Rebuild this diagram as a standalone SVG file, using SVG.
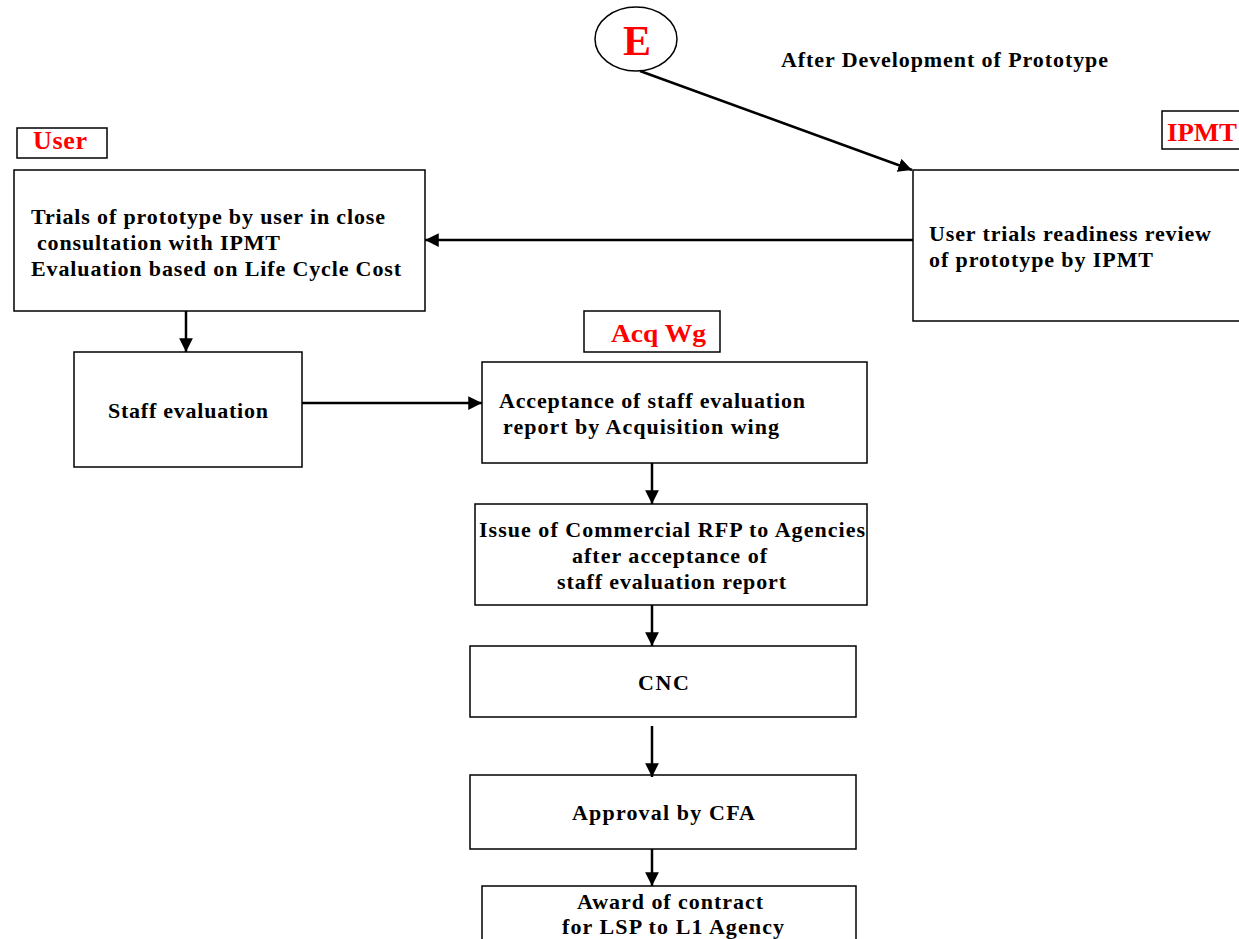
<svg xmlns="http://www.w3.org/2000/svg" width="1239" height="939" viewBox="0 0 1239 939">
<style>
.box{fill:#fff;stroke:#000;stroke-width:1.5}
.t{font-family:"Liberation Serif","Times New Roman",serif;font-weight:bold;font-size:22px;fill:#000}
.r{font-family:"Liberation Serif","Times New Roman",serif;font-weight:bold;font-size:26px;fill:#ff0000}
.c{stroke:#000;stroke-width:2.5;fill:none}
</style>
<defs>
<marker id="ah" viewBox="0 0 10 10" refX="10" refY="5" markerWidth="5.5" markerHeight="5.5" orient="auto" markerUnits="strokeWidth">
<path d="M0,0 L10,5 L0,10 z" fill="#000"/>
</marker>
</defs>
<rect width="1239" height="939" fill="#fff"/>
<g id="e-node">
<ellipse cx="636" cy="39" rx="41" ry="32" class="box"/>
<text x="637" y="55" text-anchor="middle" font-family="Liberation Serif, serif" font-weight="bold" font-size="42" fill="#ff0000">E</text>
</g>
<text class="t" x="781" y="67" textLength="327" lengthAdjust="spacing">After Development of Prototype</text>
<g id="user-label">
<rect x="17" y="128" width="90" height="30" class="box"/>
<text class="r" x="33" y="149" textLength="54" lengthAdjust="spacing">User</text>
</g>
<g id="ipmt-label">
<rect x="1162" y="111" width="80" height="38" class="box"/>
<text class="r" x="1167" y="141" textLength="70" lengthAdjust="spacingAndGlyphs">IPMT</text>
</g>
<g id="acq-label">
<rect x="584" y="311" width="136" height="41" class="box"/>
<text class="r" x="611" y="342" textLength="95" lengthAdjust="spacingAndGlyphs">Acq Wg</text>
</g>
<g id="trials">
<rect x="14" y="170" width="411" height="141" class="box"/>
<text class="t" x="31" y="224" textLength="354" lengthAdjust="spacing">Trials of prototype by user in close</text>
<text class="t" x="37" y="250" textLength="243" lengthAdjust="spacing">consultation with IPMT</text>
<text class="t" x="31" y="276" textLength="370" lengthAdjust="spacing">Evaluation based on Life Cycle Cost</text>
</g>
<g id="review">
<rect x="913" y="170" width="340" height="151" class="box"/>
<text class="t" x="929" y="241" textLength="282" lengthAdjust="spacing">User trials readiness review</text>
<text class="t" x="929" y="267" textLength="224" lengthAdjust="spacing">of prototype by IPMT</text>
</g>
<g id="staff">
<rect x="74" y="352" width="228" height="115" class="box"/>
<text class="t" x="108" y="418" textLength="160" lengthAdjust="spacing">Staff evaluation</text>
</g>
<g id="acceptance">
<rect x="482" y="362" width="385" height="101" class="box"/>
<text class="t" x="499" y="408" textLength="306" lengthAdjust="spacing">Acceptance of staff evaluation</text>
<text class="t" x="503" y="434" textLength="276" lengthAdjust="spacing">report by Acquisition wing</text>
</g>
<g id="issue">
<rect x="475" y="504" width="392" height="101" class="box"/>
<text class="t" x="479" y="537" textLength="386" lengthAdjust="spacing">Issue of Commercial RFP to Agencies</text>
<text class="t" x="572" y="563" textLength="195" lengthAdjust="spacing">after acceptance of</text>
<text class="t" x="557" y="589" textLength="229" lengthAdjust="spacing">staff evaluation report</text>
</g>
<g id="cnc">
<rect x="470" y="646" width="386" height="71" class="box"/>
<text class="t" x="638" y="690" textLength="51" lengthAdjust="spacing">CNC</text>
</g>
<g id="approval">
<rect x="470" y="775" width="386" height="74" class="box"/>
<text class="t" x="572" y="820" textLength="183" lengthAdjust="spacing">Approval by CFA</text>
</g>
<g id="award">
<rect x="482" y="886" width="374" height="70" class="box"/>
<text class="t" x="577" y="909" textLength="186" lengthAdjust="spacing">Award of contract</text>
<text class="t" x="562" y="934" textLength="222" lengthAdjust="spacing">for LSP to L1 Agency</text>
</g>
<g id="connectors">
<line x1="640" y1="71" x2="912" y2="170" class="c" marker-end="url(#ah)"/>
<line x1="913" y1="240" x2="425" y2="240" class="c" marker-end="url(#ah)"/>
<line x1="186" y1="311" x2="186" y2="352" class="c" marker-end="url(#ah)"/>
<line x1="302" y1="403" x2="482" y2="403" class="c" marker-end="url(#ah)"/>
<line x1="652" y1="463" x2="652" y2="504" class="c" marker-end="url(#ah)"/>
<line x1="652" y1="605" x2="652" y2="646" class="c" marker-end="url(#ah)"/>
<line x1="652" y1="726" x2="652" y2="777" class="c" marker-end="url(#ah)"/>
<line x1="652" y1="849" x2="652" y2="886" class="c" marker-end="url(#ah)"/>
</g>
</svg>
